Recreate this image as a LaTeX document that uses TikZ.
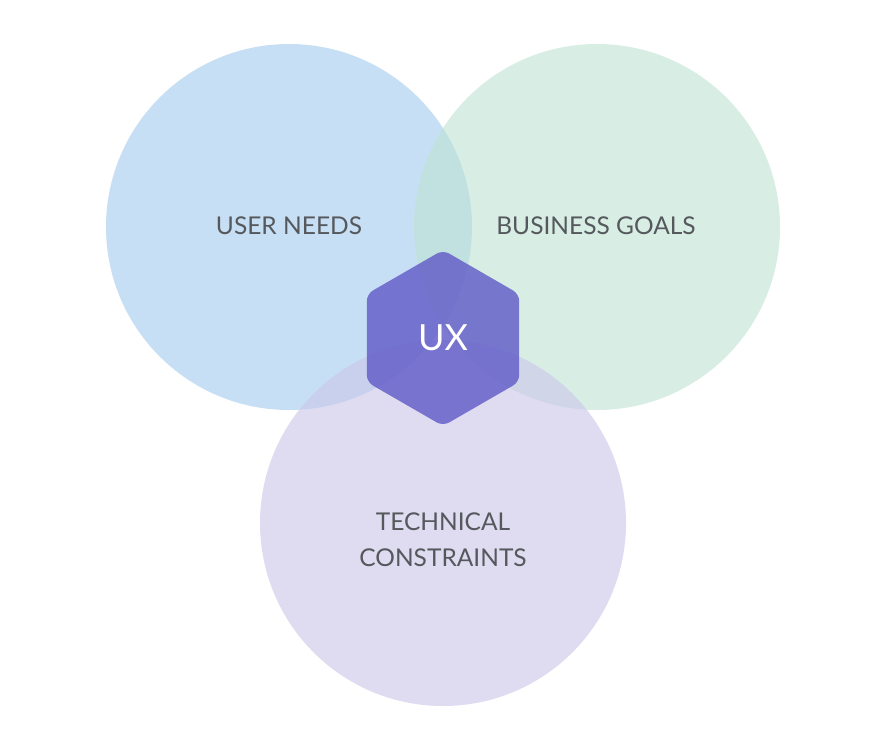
\documentclass[tikz,border=0pt]{standalone}
\usepackage{fontspec}
\setmainfont{Lato}
\definecolor{cblue}{RGB}{163,203,237}
\definecolor{cgreen}{RGB}{190,227,212}
\definecolor{cpurple}{RGB}{203,198,233}
\definecolor{hexcol}{RGB}{98,92,200}
\definecolor{txtgray}{RGB}{85,88,92}
\tikzset{
  venn/.style={circle, minimum size=366pt, inner sep=0pt, fill opacity=0.6},
  lbl/.style={text=txtgray, font=\fontsize{24.5}{36}\selectfont, align=center},
}
\begin{document}
\begin{tikzpicture}[x=1pt,y=-1pt]
\useasboundingbox (0,0) rectangle (872,732);
\fill[white] (0,0) rectangle (872,732);
\node[venn, fill=cblue] (user) at (289,227) {};
\node[venn, fill=cgreen] (biz) at (597,227) {};
\node[venn, fill=cpurple] (tech) at (443,523) {};
\fill[hexcol, fill opacity=0.82, rounded corners=7pt]
  (443,250) -- (519.2,294) -- (519.2,382) -- (443,426) -- (366.8,382) -- (366.8,294) -- cycle;
\node[lbl] (tuser) at (289,225.5) {USER NEEDS};
\node[lbl] (tbiz) at (596,225.5) {BUSINESS GOALS};
\node[lbl] (ttech) at (443,539.5) {TECHNICAL\\CONSTRAINTS};
\node[text=white, font=\fontsize{36}{40}\selectfont] (ux) at (443,338) {UX};
\end{tikzpicture}
\end{document}
